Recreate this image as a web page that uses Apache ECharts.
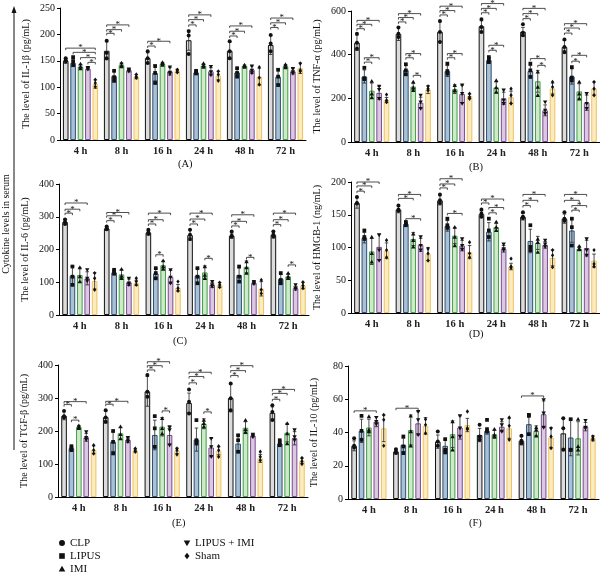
<!DOCTYPE html>
<html>
<head>
<meta charset="utf-8">
<script src="https://cdn.jsdelivr.net/npm/echarts@6/dist/echarts.min.js"></script>
<style>
  html, body { margin: 0; background: #fff; }
  #chart { width: 600px; height: 572px; }
</style>
</head>
<body>
<div id="chart"></div>
<script>
const times = ['4 h', '8 h', '16 h', '24 h', '48 h', '72 h'];
const groups = ['CLP', 'LIPUS', 'IMI', 'LIPUS + IMI', 'Sham'];

// each *Mean / *Sd row is one group (CLP, LIPUS, IMI, LIPUS + IMI, Sham), one value per time
// each *Pts row holds the individual animals per time
// each *Sig entry: [time index, group from, group to, bracket height]

// (A) IL-1β
const il1bMean = [
  [150, 169, 155, 189, 169, 180],
  [146, 121, 127, 128, 128, 120],
  [139, 142, 144, 141, 140, 140],
  [135, 132, 130, 130, 133, 130],
  [106, 120, 131, 122, 120, 136]
];
const il1bSd = [
  [5, 17, 10, 19, 16, 18],
  [7, 9, 15, 3, 7, 14],
  [4, 4, 3, 3, 2, 3],
  [2, 3, 7, 7, 7, 5],
  [8, 4, 3, 8, 16, 10]
];
const il1bPts = [
  [[155, 151, 149], [188, 165, 155], [168, 155, 146], [206, 198, 163], [187, 168, 155], [199, 183, 168]],
  [[157, 149, 142], [131, 119, 112], [140, 127, 108], [131, 128, 126], [136, 127, 120], [133, 120, 104]],
  [[144, 139, 135], [146, 141, 139], [147, 145, 142], [145, 141, 138], [142, 140, 138], [143, 139, 137]],
  [[137, 136, 134], [134, 132, 130], [138, 128, 125], [139, 129, 123], [140, 132, 127], [135, 129, 126]],
  [[114, 108, 101], [124, 120, 118], [133, 131, 128], [130, 124, 112], [138, 118, 105], [145, 132, 130]]
];
const il1bSig = [
  [0, 0, 4, 174], [0, 1, 4, 166], [0, 2, 4, 156], [0, 3, 4, 147],
  [1, 0, 1, 202], [1, 0, 2, 209], [1, 0, 3, 218],
  [2, 0, 1, 178], [2, 0, 3, 187],
  [3, 0, 1, 218], [3, 0, 2, 228], [3, 0, 3, 237],
  [4, 0, 1, 197], [4, 0, 2, 206], [4, 0, 3, 216],
  [5, 0, 1, 213], [5, 0, 2, 222], [5, 0, 3, 231]
];

// (B) TNF-α
const tnfMean = [
  [455, 495, 505, 530, 505, 435],
  [300, 330, 325, 375, 325, 300],
  [235, 254, 242, 250, 278, 232],
  [225, 180, 220, 200, 145, 180],
  [192, 240, 210, 205, 245, 245]
];
const tnfSd = [
  [35, 30, 45, 25, 20, 30],
  [30, 22, 25, 12, 25, 35],
  [35, 15, 20, 25, 50, 35],
  [30, 25, 40, 28, 25, 35],
  [12, 18, 10, 28, 25, 30]
];
const tnfPts = [
  [[496, 455, 427], [524, 496, 481], [554, 504, 458], [562, 527, 504], [539, 501, 489], [469, 435, 412]],
  [[340, 292, 288], [356, 328, 310], [359, 325, 313], [389, 377, 366], [359, 328, 298], [343, 295, 282]],
  [[279, 221, 203], [275, 249, 237], [260, 237, 234], [282, 249, 229], [321, 252, 214], [275, 221, 198]],
  [[255, 240, 198], [214, 183, 153], [260, 221, 176], [237, 191, 176], [183, 145, 130], [221, 176, 153]],
  [[217, 191, 183], [255, 244, 237], [221, 206, 198], [244, 214, 176], [275, 252, 214], [275, 244, 214]]
];
const tnfSig = [
  [0, 0, 1, 519], [0, 0, 2, 539], [0, 0, 3, 557], [0, 1, 2, 366], [0, 1, 3, 386],
  [1, 0, 1, 550], [1, 0, 2, 570], [1, 0, 3, 588], [1, 1, 2, 386], [1, 1, 3, 405], [1, 2, 3, 305],
  [2, 0, 1, 582], [2, 0, 2, 602], [2, 0, 3, 622], [2, 1, 2, 386], [2, 1, 3, 405],
  [3, 0, 1, 592], [3, 0, 2, 612], [3, 0, 3, 634], [3, 1, 2, 420], [3, 1, 3, 443],
  [4, 0, 1, 565], [4, 0, 2, 588], [4, 0, 3, 612], [4, 1, 3, 382], [4, 2, 3, 351],
  [5, 0, 1, 499], [5, 0, 2, 522], [5, 0, 3, 542], [5, 1, 2, 370], [5, 1, 3, 397]
];

// (C) IL-6
const il6Mean = [
  [284, 264, 252, 244, 242, 245],
  [120, 130, 127, 120, 122, 110],
  [122, 124, 152, 130, 147, 118],
  [112, 100, 116, 92, 98, 82],
  [104, 98, 83, 92, 80, 90]
];
const il6Sd = [
  [8, 5, 6, 16, 8, 10],
  [28, 6, 14, 22, 22, 14],
  [22, 14, 12, 20, 18, 8],
  [20, 10, 20, 8, 4, 6],
  [25, 8, 10, 7, 22, 10]
];
const il6Pts = [
  [[292, 285, 278], [270, 265, 262], [260, 252, 247], [260, 245, 232], [255, 242, 240], [255, 245, 240]],
  [[148, 117, 92], [138, 133, 126], [143, 128, 112], [143, 117, 97], [148, 117, 102], [128, 107, 97]],
  [[145, 117, 102], [140, 119, 112], [166, 148, 140], [148, 122, 112], [163, 145, 128], [128, 117, 112]],
  [[138, 112, 104], [112, 97, 92], [138, 115, 97], [102, 92, 87], [102, 97, 95], [92, 82, 79]],
  [[128, 112, 77], [112, 102, 92], [102, 82, 74], [99, 92, 85], [107, 77, 66], [100, 90, 82]]
];
const il6Sig = [
  [0, 0, 1, 311], [0, 0, 2, 323], [0, 0, 3, 342],
  [1, 0, 1, 288], [1, 0, 2, 303], [1, 0, 3, 313],
  [2, 0, 1, 278], [2, 0, 2, 291], [2, 0, 3, 311], [2, 1, 2, 184],
  [3, 0, 1, 278], [3, 0, 2, 293], [3, 0, 3, 311], [3, 2, 3, 173],
  [4, 0, 1, 272], [4, 0, 2, 286], [4, 0, 3, 306], [4, 2, 3, 176],
  [5, 0, 1, 276], [5, 0, 2, 291], [5, 0, 3, 311], [5, 2, 3, 153]
];

// (D) HMGB-1
const hmgbMean = [
  [168, 158, 172, 151, 147, 144],
  [115, 136, 133, 124, 110, 126],
  [94, 113, 118, 131, 107, 98],
  [101, 104, 103, 98, 104, 99],
  [95, 90, 93, 71, 84, 80]
];
const hmgbSd = [
  [8, 5, 7, 5, 5, 7],
  [8, 3, 8, 14, 18, 18],
  [20, 10, 12, 6, 10, 3],
  [20, 10, 8, 5, 5, 12],
  [12, 10, 10, 5, 12, 10]
];
const hmgbPts = [
  [[177, 168, 167], [164, 158, 156], [181, 172, 168], [158, 152, 147], [154, 147, 145], [154, 144, 141]],
  [[126, 116, 113], [139, 136, 134], [144, 134, 130], [144, 126, 116], [134, 101, 96], [144, 131, 103]],
  [[116, 91, 78], [121, 111, 101], [131, 116, 103], [139, 131, 126], [113, 108, 93], [102, 98, 97]],
  [[119, 96, 80], [116, 103, 96], [113, 103, 97], [105, 98, 96], [111, 105, 101], [113, 96, 88]],
  [[111, 96, 85], [98, 91, 80], [108, 91, 85], [83, 71, 69], [96, 88, 70], [96, 75, 71]]
];
const hmgbSig = [
  [0, 0, 1, 186], [0, 0, 2, 194], [0, 0, 3, 200],
  [1, 0, 2, 175], [1, 0, 3, 181], [1, 1, 3, 144],
  [2, 0, 1, 191], [2, 0, 2, 197], [2, 0, 3, 205], [2, 1, 3, 152],
  [3, 0, 1, 168], [3, 0, 3, 174], [3, 1, 2, 153], [3, 1, 3, 161],
  [4, 0, 1, 164], [4, 0, 2, 172], [4, 0, 3, 181],
  [5, 0, 2, 172], [5, 0, 3, 181], [5, 1, 2, 157], [5, 1, 3, 164]
];

// (E) TGF-β
const tgfMean = [
  [246, 242, 320, 285, 300, 255],
  [148, 168, 188, 174, 162, 162],
  [212, 193, 213, 222, 210, 195],
  [181, 173, 188, 150, 186, 178],
  [143, 141, 140, 140, 117, 110]
];
const tgfSd = [
  [12, 18, 45, 30, 42, 18],
  [6, 30, 45, 35, 25, 8],
  [5, 18, 28, 15, 18, 28],
  [12, 8, 28, 28, 4, 20],
  [12, 5, 8, 12, 12, 8]
];
const tgfPts = [
  [[261, 245, 241], [263, 241, 228], [370, 319, 304], [326, 289, 253], [344, 299, 263], [278, 258, 233]],
  [[154, 147, 142], [200, 167, 132], [245, 208, 152], [233, 172, 162], [187, 172, 137], [172, 162, 157]],
  [[216, 211, 208], [213, 190, 177], [238, 208, 192], [233, 223, 213], [233, 205, 197], [223, 192, 162]],
  [[197, 180, 174], [180, 172, 167], [211, 203, 157], [177, 152, 122], [190, 187, 182], [203, 182, 172]],
  [[157, 142, 132], [147, 142, 137], [147, 142, 129], [154, 142, 122], [137, 122, 111], [118, 108, 100]]
];
const tgfSig = [
  [0, 0, 1, 280], [0, 0, 3, 289], [0, 1, 2, 233],
  [1, 0, 1, 281], [1, 0, 3, 290],
  [2, 0, 1, 385], [2, 0, 2, 398], [2, 0, 3, 410], [2, 2, 3, 261],
  [3, 0, 1, 346], [3, 0, 2, 365], [3, 0, 3, 378], [3, 2, 3, 258],
  [4, 0, 1, 368], [4, 0, 2, 383], [4, 0, 3, 398],
  [5, 0, 1, 296], [5, 0, 2, 314], [5, 0, 3, 326]
];

// (F) IL-10
const il10Mean = [
  [32, 28.6, 34.5, 38.5, 35, 39.5],
  [41, 32.6, 32, 41, 45, 37],
  [43, 41.5, 39, 39, 41, 36.5],
  [46.5, 45.5, 43, 43.5, 51, 43.5],
  [42.5, 44, 44.5, 42.5, 37, 36.5]
];
const il10Sd = [
  [3, 1.5, 4, 4, 2.5, 9],
  [7, 4, 4, 2, 6, 11],
  [5, 9, 8, 2.5, 3, 10],
  [3, 7, 7, 3, 8, 2.5],
  [8, 5, 4, 6, 6, 1.5]
];
const il10Pts = [
  [[36.6, 32, 31], [30, 28.6, 27.6], [40.6, 34.6, 32], [44.6, 37.6, 35.6], [38, 35, 33.6], [48.6, 42.6, 29.6]],
  [[50, 41, 35.6], [37.6, 31.6, 27.6], [36, 29.6, 28], [47.6, 41.6, 40.6], [50.6, 50, 39], [48, 29.6, 29.6]],
  [[49.6, 41.6, 40.6], [50, 40.6, 32], [46.6, 37.6, 29.6], [42, 38.6, 37.6], [43, 41.6, 38], [48, 31.6, 29.6]],
  [[49, 46.6, 45], [52.6, 47.6, 38.6], [50, 42.6, 37.6], [47.6, 44.6, 40.6], [59.6, 51.6, 43], [47.2, 43, 42.6]],
  [[50.6, 47.6, 32], [48, 44.6, 39.6], [52.6, 42.6, 42], [49, 44, 35.6], [42.6, 37.6, 30.6], [37.6, 36.6, 35.6]]
];
const il10Sig = [[0, 0, 3, 53], [1, 0, 3, 54.6], [4, 0, 3, 62]];

const fills = ['#dcdcdc', '#a9c1d6', '#cfe9c9', '#dcc8e3', '#fbebc0'];
const strokes = ['#111111', '#2f4f6f', '#3f9d48', '#7a4a8e', '#efc25f'];
const serif = 'Liberation Serif';
const BAR_W = 5.6;
const STEP = 7.4; // bar width + gap

const panels = [
  { mean: il1bMean, sd: il1bSd, pts: il1bPts, sig: il1bSig, name: 'The level of IL-1β (pg/mL)', max: 250, interval: 50,
    left: 60, top: 8, width: 246, height: 132, tag: '(A)', tagX: 186, tagY: 165 },
  { mean: tnfMean, sd: tnfSd, pts: tnfPts, sig: tnfSig, name: 'The level of TNF-α (pg/mL)', max: 600, interval: 200,
    left: 351, top: 11, width: 249, height: 131, tag: '(B)', tagX: 477, tagY: 168 },
  { mean: il6Mean, sd: il6Sd, pts: il6Pts, sig: il6Sig, name: 'The level of IL-6 (pg/mL)', max: 400, interval: 100,
    left: 59, top: 184, width: 250, height: 131, tag: '(C)', tagX: 181, tagY: 342 },
  { mean: hmgbMean, sd: hmgbSd, pts: hmgbPts, sig: hmgbSig, name: 'The level of HMGB-1 (ng/mL)', max: 200, interval: 50,
    left: 351, top: 182, width: 249, height: 131, tag: '(D)', tagX: 477, tagY: 335 },
  { mean: tgfMean, sd: tgfSd, pts: tgfPts, sig: tgfSig, name: 'The level of TGF-β (pg/mL)', max: 400, interval: 100,
    left: 58, top: 365, width: 250, height: 132, tag: '(E)', tagX: 180, tagY: 524 },
  { mean: il10Mean, sd: il10Sd, pts: il10Pts, sig: il10Sig, name: 'The level of IL-10 (pg/mL)', max: 80, interval: 20,
    left: 348, top: 366, width: 251, height: 133, tag: '(F)', tagX: 477, tagY: 524 }
];

function marker (g, cx, cy, s, color) {
  const style = { fill: color };
  if (g === 0) return { type: 'circle', shape: { cx: cx, cy: cy, r: s * 0.9 }, style: style };
  if (g === 1) return { type: 'rect', shape: { x: cx - s * 0.85, y: cy - s * 0.85, width: s * 1.7, height: s * 1.7 }, style: style };
  if (g === 2) return { type: 'polygon', shape: { points: [[cx, cy - s], [cx - s, cy + s * 0.75], [cx + s, cy + s * 0.75]] }, style: style };
  if (g === 3) return { type: 'polygon', shape: { points: [[cx, cy + s], [cx - s, cy - s * 0.75], [cx + s, cy - s * 0.75]] }, style: style };
  return { type: 'polygon', shape: { points: [[cx, cy - s], [cx + s * 0.75, cy], [cx, cy + s], [cx - s * 0.75, cy]] }, style: style };
}

const grid = [];
const xAxis = [];
const yAxis = [];
const series = [];
const graphic = [];

panels.forEach((p, i) => {
  grid.push({ left: p.left, top: p.top, width: p.width, height: p.height });
  xAxis.push({
    type: 'category', gridIndex: i, data: times,
    axisLine: { lineStyle: { color: '#000', width: 1 } },
    axisTick: { alignWithLabel: true, length: 3, lineStyle: { color: '#000' } },
    axisLabel: { fontFamily: serif, fontSize: 10.5, fontWeight: 'bold', color: '#222', margin: 6 }
  });
  yAxis.push({
    type: 'value', gridIndex: i, min: 0, max: p.max, interval: p.interval,
    name: p.name, nameLocation: 'middle', nameGap: 29,
    nameTextStyle: { fontFamily: serif, fontSize: 10, color: '#111' },
    axisLine: { show: true, lineStyle: { color: '#000', width: 1 } },
    axisTick: { show: true, length: 3, lineStyle: { color: '#000' } },
    splitLine: { show: false },
    axisLabel: { fontFamily: serif, fontSize: 10, color: '#111', margin: 5 }
  });

  groups.forEach((g, gi) => {
    series.push({
      name: g, type: 'bar', xAxisIndex: i, yAxisIndex: i,
      data: p.mean[gi], barWidth: BAR_W, barGap: '32%',
      itemStyle: { color: fills[gi], borderColor: strokes[gi], borderWidth: 1 },
      silent: true
    });
  });

  // error bars and individual points
  const errData = [];
  for (let gi = 0; gi < 5; gi++) {
    for (let t = 0; t < times.length; t++) {
      errData.push([t, gi, p.mean[gi][t], p.sd[gi][t]].concat(p.pts[gi][t]));
    }
  }
  series.push({
    type: 'custom', xAxisIndex: i, yAxisIndex: i, z: 5, silent: true,
    encode: { x: 0, y: 2 },
    data: errData,
    renderItem: function (params, api) {
      const t = api.value(0);
      const gi = api.value(1);
      const m = api.value(2);
      const s = api.value(3);
      const off = (gi - 2) * STEP;
      const top = api.coord([t, m + s]);
      const bot = api.coord([t, Math.max(0, m - s)]);
      const x = top[0] + off;
      const children = [
        { type: 'line', shape: { x1: x, y1: top[1], x2: x, y2: bot[1] }, style: { stroke: '#222', lineWidth: 0.8 } },
        { type: 'line', shape: { x1: x - 1.8, y1: top[1], x2: x + 1.8, y2: top[1] }, style: { stroke: '#222', lineWidth: 0.8 } },
        { type: 'line', shape: { x1: x - 1.8, y1: bot[1], x2: x + 1.8, y2: bot[1] }, style: { stroke: '#222', lineWidth: 0.8 } }
      ];
      for (let k = 4; k < 7; k++) {
        const c = api.coord([t, api.value(k)]);
        children.push(marker(gi, x, c[1], 2.2, '#111'));
      }
      return { type: 'group', children: children };
    }
  });

  // significance brackets
  series.push({
    type: 'custom', xAxisIndex: i, yAxisIndex: i, z: 6, silent: true, clip: false,
    encode: { x: 0, y: 3 },
    data: p.sig,
    renderItem: function (params, api) {
      const t = api.value(0);
      const c = api.coord([t, api.value(3)]);
      const x1 = c[0] + (api.value(1) - 2) * STEP;
      const x2 = c[0] + (api.value(2) - 2) * STEP;
      const y = c[1];
      return {
        type: 'group',
        children: [
          { type: 'polyline', shape: { points: [[x1, y + 2], [x1, y], [x2, y], [x2, y + 2]] }, style: { stroke: '#222', fill: null, lineWidth: 0.8 } },
          { type: 'text', style: { text: '*', x: (x1 + x2) / 2, y: y + 4.5, fontSize: 9, fontFamily: serif, fill: '#111', align: 'center', verticalAlign: 'bottom' } }
        ]
      };
    }
  });

  graphic.push({ type: 'text', left: p.tagX - 8, top: p.tagY - 6, style: { text: p.tag, fontFamily: serif, fontSize: 10.5, fill: '#111' } });
});

// vertical arrow with the shared axis caption
graphic.push(
  { type: 'line', shape: { x1: 14, y1: 450, x2: 14, y2: 12 }, style: { stroke: '#111', lineWidth: 1 } },
  { type: 'polygon', shape: { points: [[14, 6], [11.5, 13], [16.5, 13]] }, style: { fill: '#111' } },
  { type: 'text', x: 6, y: 224, rotation: Math.PI / 2,
    style: { text: 'Cytokine levels in serum', fontFamily: serif, fontSize: 10, fill: '#111', align: 'center', verticalAlign: 'middle' } }
);

// legend
const legendPos = [[62, 543], [62, 556], [62, 569], [187, 543], [187, 556]];
groups.forEach((g, gi) => {
  const pos = legendPos[gi];
  graphic.push(marker(gi, pos[0], pos[1], 3.3, '#111'));
  graphic.push({ type: 'text', x: pos[0] + 8, y: pos[1], style: { text: g, fontFamily: serif, fontSize: 11, fill: '#111', verticalAlign: 'middle' } });
});

const myChart = echarts.init(document.getElementById('chart'), null, { renderer: 'canvas' });
myChart.setOption({
  animation: false,
  backgroundColor: '#fff',
  grid: grid,
  xAxis: xAxis,
  yAxis: yAxis,
  series: series,
  graphic: graphic
});
</script>
</body>
</html>
